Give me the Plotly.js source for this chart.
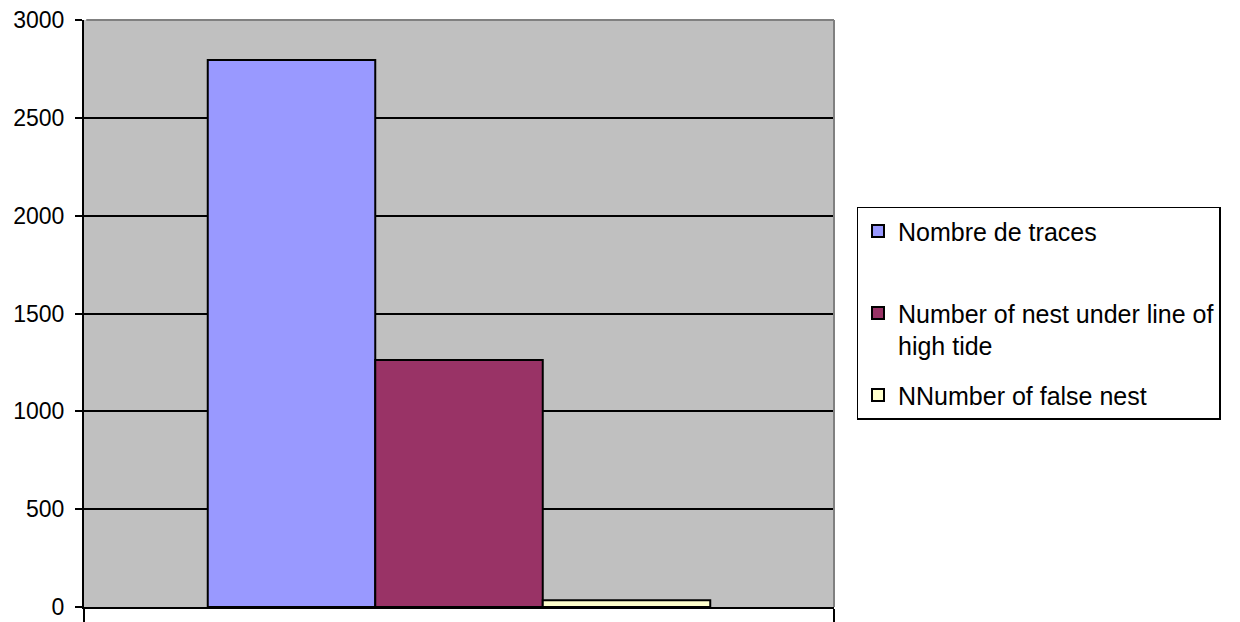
<!DOCTYPE html>
<html>
<head>
<meta charset="utf-8">
<script src="https://cdn.plot.ly/plotly-3.0.1.min.js"></script>
<style>html,body{margin:0;padding:0;background:#fff;}#chart{width:1240px;height:622px;}</style>
</head>
<body>
<div id="chart"></div>
<script>
const categories = ["1"];
const seriesNames = ["Nombre de traces<br>\u00a0", "Number of nest under line of<br>high tide", "NNumber of false nest"];
const seriesValues = [[2795], [1262], [35]];
const seriesColors = ["#9999FF", "#993366", "#FFFFCC"];
const yTicks = [0, 500, 1000, 1500, 2000, 2500, 3000];

const traces = seriesNames.map((name, i) => ({
  type: "bar",
  name: name,
  x: categories,
  y: seriesValues[i],
  legendgroup: "g" + i,
  marker: {color: seriesColors[i], line: {color: "#000000", width: 2}},
  hoverinfo: "none"
}));

const layout = {
  width: 1240, height: 622,
  margin: {l: 84, r: 406, t: 20, b: 15, pad: 0},
  paper_bgcolor: "#ffffff",
  plot_bgcolor: "#C0C0C0",
  barmode: "group",
  bargap: 0.33,
  bargroupgap: 0,
  font: {family: "Liberation Sans, Arial, sans-serif", size: 22, color: "#000000"},
  showlegend: true,
  legend: {
    x: 1.03, y: 0.682, xanchor: "left", yanchor: "top",
    bgcolor: "#ffffff", bordercolor: "#000000", borderwidth: 1.5,
    font: {family: "Liberation Sans, Arial, sans-serif", size: 25, color: "#000000"},
    tracegroupgap: 14, traceorder: "grouped", itemwidth: 30, valign: "top"
  },
  xaxis: {
    type: "category",
    range: [-0.5, 0.5],
    showticklabels: false,
    tickson: "boundaries",
    ticks: "outside", ticklen: 15, tickwidth: 2, tickcolor: "#000000",
    showline: true, linecolor: "#000000", linewidth: 2,
    showgrid: false, zeroline: false, fixedrange: true
  },
  yaxis: {
    range: [0, 3000],
    tickvals: yTicks,
    ticktext: yTicks.map(String),
    ticks: "outside", ticklen: 7, tickwidth: 2, tickcolor: "#000000",
    ticklabelstandoff: 6,
    showline: true, linecolor: "#000000", linewidth: 2,
    showgrid: true, gridcolor: "#000000", gridwidth: 2,
    zeroline: false, fixedrange: true,
    tickfont: {size: 23}
  },
  shapes: [
    {type: "line", xref: "paper", yref: "paper", x0: 0.003, x1: 1, y0: 1, y1: 1,
     line: {color: "#808080", width: 2}, layer: "above"},
    {type: "line", xref: "paper", yref: "paper", x0: 1, x1: 1, y0: 0, y1: 1,
     line: {color: "#808080", width: 2}, layer: "above"}
  ]
};

Plotly.newPlot("chart", traces, layout, {displayModeBar: false, staticPlot: true});
</script>
</body>
</html>
